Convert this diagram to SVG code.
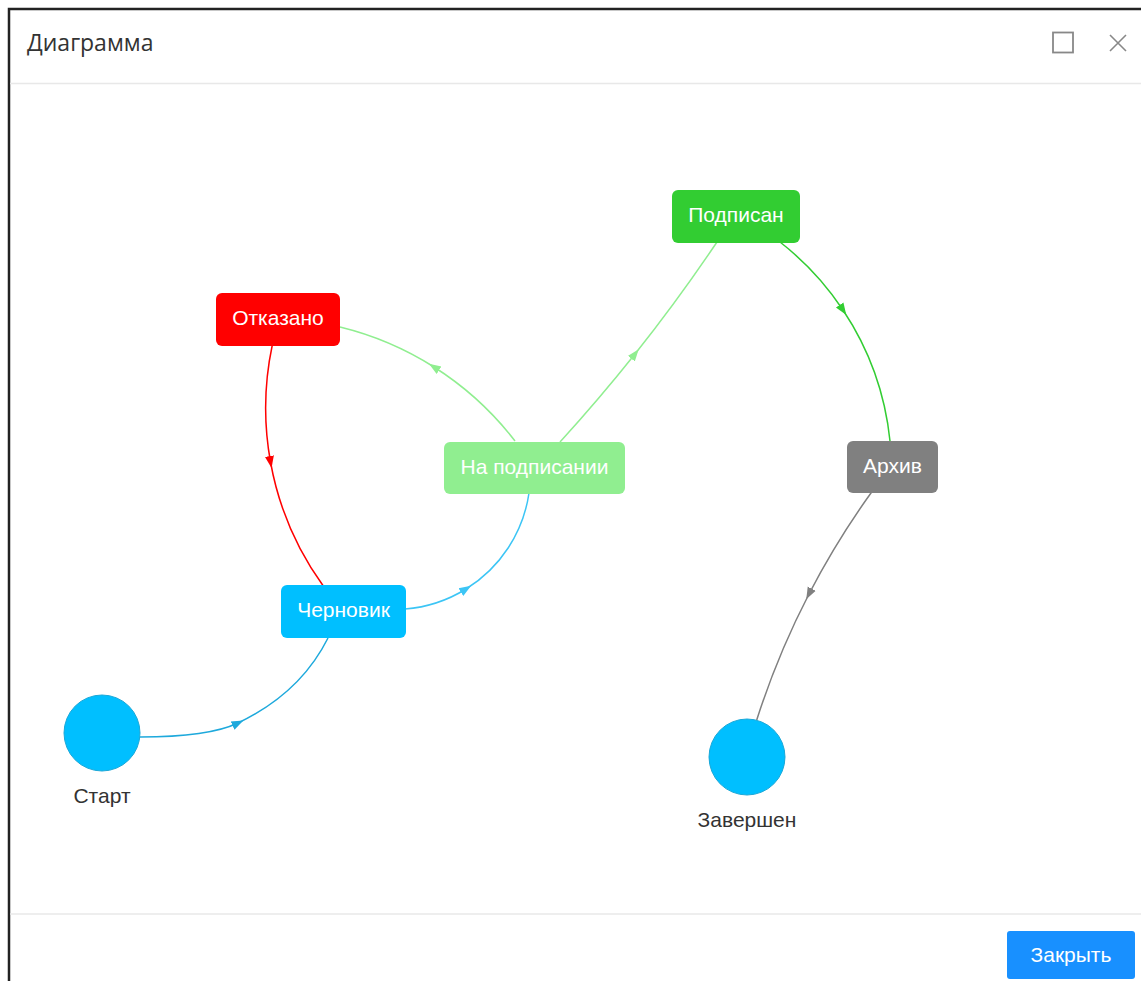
<svg xmlns="http://www.w3.org/2000/svg" width="1141" height="981" viewBox="0 0 1141 981">
<style>
.lbl{font-family:"Liberation Sans",Arial,sans-serif;font-size:21px;fill:#fff;text-anchor:middle}
.cap{font-family:"Liberation Sans",Arial,sans-serif;font-size:21px;fill:#333;text-anchor:middle}
.edge{fill:none;stroke-width:1.5}
.sep{stroke:#e8e8e8;stroke-width:1.5}
</style>
<defs>
<marker id="arBlue" markerUnits="userSpaceOnUse" markerWidth="14" markerHeight="12" refX="6" refY="5" orient="auto" viewBox="0 0 14 10"><path d="M0,0.5 L12,5 L0,9.5 Z" fill="#1ea9dc"/></marker>
<marker id="arBlue2" markerUnits="userSpaceOnUse" markerWidth="14" markerHeight="12" refX="6" refY="5" orient="auto" viewBox="0 0 14 10"><path d="M0,0.5 L12,5 L0,9.5 Z" fill="#3cc5f5"/></marker>
<marker id="arLight" markerUnits="userSpaceOnUse" markerWidth="14" markerHeight="12" refX="6" refY="5" orient="auto" viewBox="0 0 14 10"><path d="M0,0.5 L12,5 L0,9.5 Z" fill="#90ee90"/></marker>
<marker id="arRed" markerUnits="userSpaceOnUse" markerWidth="14" markerHeight="12" refX="6" refY="5" orient="auto" viewBox="0 0 14 10"><path d="M0,0.5 L12,5 L0,9.5 Z" fill="#ff0000"/></marker>
<marker id="arLime" markerUnits="userSpaceOnUse" markerWidth="14" markerHeight="12" refX="6" refY="5" orient="auto" viewBox="0 0 14 10"><path d="M0,0.5 L12,5 L0,9.5 Z" fill="#32cd32"/></marker>
<marker id="arGrey" markerUnits="userSpaceOnUse" markerWidth="14" markerHeight="12" refX="6" refY="5" orient="auto" viewBox="0 0 14 10"><path d="M0,0.5 L12,5 L0,9.5 Z" fill="#808080"/></marker>
</defs>
<rect x="0" y="0" width="1141" height="981" fill="#fff"/>
<g id="window">
<path d="M9,981 V9 H1141" fill="none" stroke="#222" stroke-width="2.5"/>
<text x="27" y="51" font-family="'Open Sans','Noto Sans',sans-serif" font-size="23" fill="#333">Диаграмма</text>
<rect x="1053" y="32.5" width="20" height="20" fill="none" stroke="#888" stroke-width="1.8"/>
<path d="M1110,35 L1126,51 M1126,35 L1110,51" stroke="#888" stroke-width="1.6"/>
<line class="sep" x1="10" y1="83.5" x2="1141" y2="83.5"/>
<line class="sep" x1="10" y1="914" x2="1141" y2="914"/>
</g>
<g id="connectors">
<path class="edge" stroke="#1ea9dc" marker-mid="url(#arBlue)" d="M140,737 Q208.6,737 238,723 Q300.3,693.3 328,638"/>
<path class="edge" stroke="#3cc5f5" marker-mid="url(#arBlue2)" d="M405,609 A136,136 0 0,0 466,589 A136,136 0 0,0 529,493"/>
<path class="edge" stroke="#90ee90" marker-mid="url(#arLight)" d="M515,441 A315,315 0 0,0 434,367 A315,315 0 0,0 340,327"/>
<path class="edge" stroke="#90ee90" marker-mid="url(#arLight)" d="M560,442 A1723,1723 0 0,0 635,354 A1723,1723 0 0,0 717,242"/>
<path class="edge" stroke="#ff0000" marker-mid="url(#arRed)" d="M272.3,345 A303.6,303.6 0 0,0 270.5,462 A303.6,303.6 0 0,0 323.3,586"/>
<path class="edge" stroke="#32cd32" marker-mid="url(#arLime)" d="M780,242 A290,290 0 0,1 843,310 A290,290 0 0,1 890,441"/>
<path class="edge" stroke="#808080" marker-mid="url(#arGrey)" d="M871.7,492 A813,813 0 0,0 809,594 A813,813 0 0,0 756.7,720"/>
</g>
<g id="node-start">
<circle cx="102" cy="733" r="38" fill="#00bfff" stroke="#1aa8d8" stroke-width="1"/>
<text class="cap" x="102" y="803">Старт</text>
</g>
<g id="node-draft">
<rect x="281" y="585" width="125" height="53" rx="6" fill="#00bfff"/>
<text class="lbl" x="343.5" y="617">Черновик</text>
</g>
<g id="node-rejected">
<rect x="216" y="293" width="124" height="53" rx="6" fill="#ff0000"/>
<text class="lbl" x="278" y="325">Отказано</text>
</g>
<g id="node-signing">
<rect x="444" y="442" width="181" height="52" rx="6" fill="#90ee90"/>
<text class="lbl" x="534.5" y="474">На подписании</text>
</g>
<g id="node-signed">
<rect x="672" y="190" width="128" height="53" rx="6" fill="#32cd32"/>
<text class="lbl" x="736" y="222">Подписан</text>
</g>
<g id="node-archive">
<rect x="847" y="441" width="91" height="52" rx="6" fill="#808080"/>
<text class="lbl" x="892.5" y="473">Архив</text>
</g>
<g id="node-end">
<circle cx="747" cy="757" r="38" fill="#00bfff" stroke="#1aa8d8" stroke-width="1"/>
<text class="cap" x="747" y="827">Завершен</text>
</g>
<g id="close-button">
<rect x="1007" y="931" width="128" height="48" rx="3" fill="#1890ff"/>
<text class="lbl" x="1071" y="962">Закрыть</text>
</g>
</svg>
